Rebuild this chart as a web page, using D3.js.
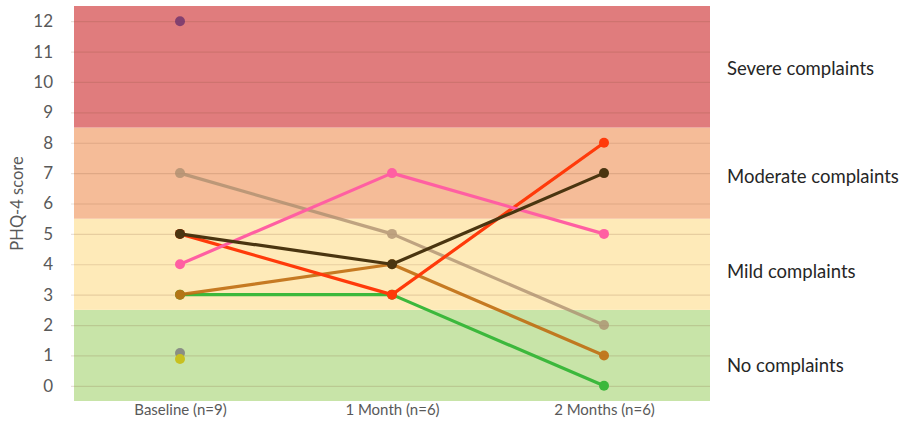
<!DOCTYPE html>
<html><head><meta charset="utf-8">
<script src="https://cdn.jsdelivr.net/npm/d3@7"></script>
<style>body{margin:0;background:#fff}svg{display:block}text{font-family:Lato,"Open Sans",sans-serif}</style>
</head><body><svg id="c" width="909" height="421"></svg>
<script>
const categories = ["Baseline (n=9)", "1 Month (n=6)", "2 Months (n=6)"];
const yTicks = [0,1,2,3,4,5,6,7,8,9,10,11,12];
const bandNames = ["No complaints", "Mild complaints", "Moderate complaints", "Severe complaints"];
const bandFrom = [-0.5, 2.5, 5.5, 8.5];
const bandTo = [2.5, 5.5, 8.5, 12.5];
const bandColors = ["#C8E4A8", "#FEEAB8", "#F5BC98", "#E07C7D"];
const seriesNames = ["P1","P2","P3","P4","P5","P6","P7","P8","P9"];
const seriesColors = ["#7A3A6E","#AA8C6E","#FF5FA2","#4A3510","#FF3A0A","#C06E12","#3CB83C","#808080","#C8C020"];
const seriesOpacity = [0.9, 0.75, 1, 1, 1, 0.9, 1, 0.85, 1];
const s1 = [12, null, null];
const s2 = [7, 5, 2];
const s3 = [4, 7, 5];
const s4 = [5, 4, 7];
const s5 = [5, 3, 8];
const s6 = [3, 4, 1];
const s7 = [3, 3, 0];
const s8 = [1.08, null, null];
const s9 = [0.88, null, null];
const seriesValues = [s1, s2, s3, s4, s5, s6, s7, s8, s9];
const drawOrder = [7, 8, 0, 6, 5, 1, 4, 2, 3];

(function(){
const svg = d3.select("#c");
const pL = 74, pR = 710, pT = 6, pB = 401;
const x = d3.scalePoint().domain(categories).range([pL, pR]).padding(0.5);
const y = d3.scaleLinear().domain([-0.5, 12.5]).range([pB, pT]);

svg.append("g").selectAll("rect").data(bandNames).join("rect")
  .attr("x", pL).attr("width", pR - pL)
  .attr("y", (d,i) => y(bandTo[i])).attr("height", (d,i) => y(bandFrom[i]) - y(bandTo[i]))
  .attr("fill", (d,i) => bandColors[i]);

const yAxis = d3.axisLeft(y).tickValues(yTicks).tickSize(pR - pL + 3).tickPadding(18).tickFormat(d3.format("d"));
const gy = svg.append("g").attr("transform", `translate(${pR},0)`).call(yAxis);
gy.select(".domain").remove();
gy.selectAll(".tick line").attr("stroke", "rgba(120,70,40,0.17)").attr("stroke-width", 1.2);
gy.selectAll(".tick text").attr("fill", "#595959").style("font-size", "17px").style("font-family", "Lato, sans-serif");

const xAxis = d3.axisBottom(x).tickSize(0).tickPadding(3);
const gx = svg.append("g").attr("transform", `translate(0,${pB})`).call(xAxis);
gx.select(".domain").remove();
gx.selectAll(".tick text").attr("fill", "#595959").style("font-size", "15px").style("font-family", "Lato, sans-serif");

svg.append("text").attr("transform", `translate(23,${(pT+pB)/2}) rotate(-90)`)
  .attr("text-anchor", "middle").attr("fill", "#595959").style("font-size", "16.5px").text("PHQ-4 score");

const labelY = [366, 272, 177, 69];
svg.append("g").selectAll("text").data(bandNames).join("text")
  .attr("x", 727).attr("y", (d,i) => labelY[i])
  .attr("dy", "0.35em").attr("fill", "#262626").style("font-size", "18.5px").text(d => d);

const line = d3.line().defined(d => d.v != null).x(d => x(d.c)).y(d => y(d.v));
const gS = svg.append("g");
drawOrder.forEach(i => {
  const pts = seriesValues[i].map((v, j) => ({c: categories[j], v}));
  const g = gS.append("g").attr("opacity", seriesOpacity[i]);
  g.append("path").datum(pts).attr("d", line).attr("fill", "none")
    .attr("stroke", seriesColors[i]).attr("stroke-width", 3.2).attr("stroke-linejoin", "round");
  g.selectAll("circle").data(pts.filter(p => p.v != null)).join("circle")
    .attr("cx", p => x(p.c)).attr("cy", p => y(p.v)).attr("r", 5)
    .attr("fill", seriesColors[i]);
});
})();
</script></body></html>
